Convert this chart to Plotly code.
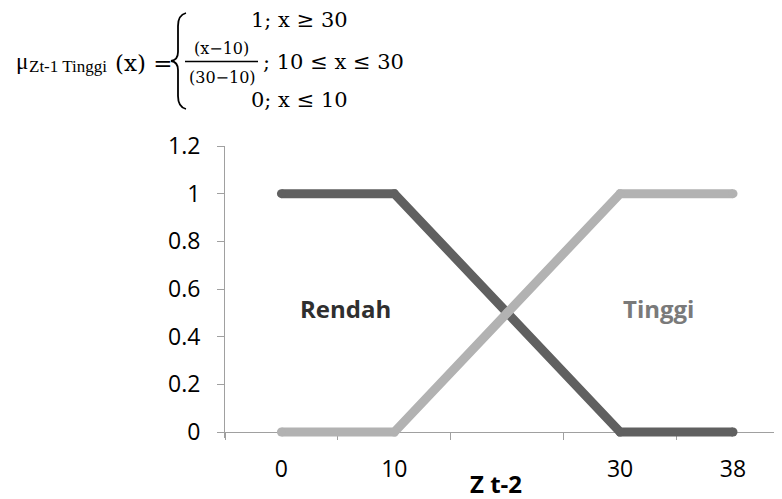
import plotly.graph_objects as go

# ---- data ----
categories = ["0", "10", "20", "30", "38"]
tick_labels = ["0", "10", "", "30", "38"]
rendah = [1, 1, 0.5, 0, 0]
tinggi = [0, 0, 0.5, 1, 1]
y_ticks = [0, 0.2, 0.4, 0.6, 0.8, 1.0, 1.2]
y_tick_labels = ["0", "0.2", "0.4", "0.6", "0.8", "1", "1.2"]

OFF = 8  # page body margin
W, H = 782 - OFF, 499 - OFF
L, R = 225 - OFF, 782 - OFF
T, B = 146 - OFF, 438 - OFF
YMIN, YMAX = -0.025, 1.2


def px(x):
    return (x - OFF - L) / (R - L)


def py(y):
    return (B - (y - OFF)) / (B - T)


fig = go.Figure()
fig.add_trace(go.Scatter(x=categories, y=rendah, mode="lines+markers", name="Rendah",
                         line=dict(color="#606060", width=9),
                         marker=dict(color="#606060", size=9),
                         cliponaxis=False))
fig.add_trace(go.Scatter(x=categories, y=tinggi, mode="lines+markers", name="Tinggi",
                         line=dict(color="#b2b2b2", width=9),
                         marker=dict(color="#b2b2b2", size=9),
                         cliponaxis=False))

ann = []
sans = "Open Sans"
serif = "DejaVu Serif"
times = "Liberation Serif"


def add_text(t, x, y, size, family, xanchor="center", color="#000", bold=False):
    ann.append(dict(text=(f"<b>{t}</b>" if bold else t), x=px(x), y=py(y), xref="paper", yref="paper",
                    showarrow=False, xanchor=xanchor, yanchor="middle",
                    font=dict(family=family, size=size, color=color)))


# series labels
add_text("Rendah", 345, 308, 24, sans, color="#2f2f2f", bold=True)
add_text("Tinggi", 658, 308, 24, sans, color="#7a7a7a", bold=True)
# axis title
add_text("Z t-2", 496, 483, 24, sans, color="#000", bold=True)

# formula
add_text("μ", 14, 62, 23, times, xanchor="left")
add_text("Zt-1 Tinggi", 27, 66, 17, times, xanchor="left")
add_text("(x) =", 113, 63, 23, serif, xanchor="left")
add_text("1; x ≥ 30", 299, 20, 21, serif)
add_text("(x−10)", 221, 48, 16, serif)
add_text("(30−10)", 222, 77, 16, serif)
add_text("; 10 ≤ x ≤ 30", 261, 62, 21, serif, xanchor="left")
add_text("0; x ≤ 10", 299, 100, 21, serif)

shapes = []
# fraction bar
shapes.append(dict(type="line", xref="paper", yref="paper", x0=px(185), x1=px(258), y0=py(61.5), y1=py(61.5),
                   line=dict(color="#000", width=1.6)))
# brace
pts = [("M", (186, 13)), ("Q", (178, 15, 178, 26)), ("L", (178, 52)), ("Q", (178, 60, 171, 61)),
       ("Q", (178, 62, 178, 70)), ("L", (178, 96)), ("Q", (178, 107, 186, 109))]
path = ""
for cmd, c in pts:
    coords = []
    for i in range(0, len(c), 2):
        coords.append(f"{px(c[i]):.5f},{py(c[i+1]):.5f}")
    path += cmd + " " + " ".join(coords) + " "
shapes.append(dict(type="path", xref="paper", yref="paper", path=path.strip(),
                   line=dict(color="#000", width=1.8)))

fig.update_layout(
    width=W, height=H, template="none", showlegend=False,
    paper_bgcolor="white", plot_bgcolor="white",
    margin=dict(l=L, r=W - R, t=T, b=H - B, pad=0),
    annotations=ann, shapes=shapes,
    xaxis=dict(type="category", range=[-0.5, 4.434], tickmode="array", tickvals=categories,
               ticktext=tick_labels, tickson="boundaries", ticks="outside", ticklen=7,
               tickcolor="#a0a0a0", tickwidth=1, showline=True, linecolor="#a0a0a0", linewidth=1,
               showgrid=False, zeroline=False, anchor="free", position=(0 - YMIN) / (YMAX - YMIN),
               tickfont=dict(family=sans, size=23, color="#000"), ticklabelstandoff=16,
               layer="below traces", automargin=False),
    yaxis=dict(range=[YMIN, YMAX], tickmode="array", tickvals=y_ticks, ticktext=y_tick_labels,
               ticks="outside", ticklen=7, tickcolor="#a0a0a0", tickwidth=1, showline=True,
               linecolor="#a0a0a0", linewidth=1, showgrid=False, zeroline=False,
               tickfont=dict(family=sans, size=23, color="#000"), ticklabelstandoff=12,
               layer="below traces", automargin=False),
)

fig.write_html("out.html")
